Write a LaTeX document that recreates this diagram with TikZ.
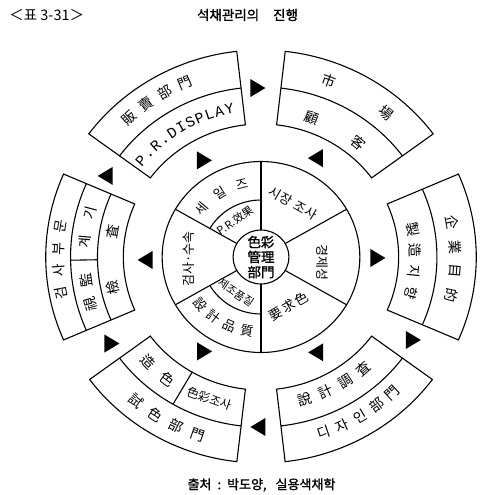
\documentclass[tikz,border=0pt]{standalone}
\usepackage{fontspec}
\usetikzlibrary{decorations.text}
\setmainfont{Noto Sans CJK KR}
\newfontfamily\cjk{Noto Sans CJK KR}
\newfontfamily\cjkb{Noto Sans CJK KR}[FakeBold=1.5]
\newfontfamily\monof{Liberation Mono}
\tikzset{
  lw/.style={line width=1.1pt},
  chr/.style={font=\cjk\fontsize{14}{14}\selectfont, inner sep=0pt},
  ringtxt/.style={font=\cjk\fontsize{13}{13}\selectfont, inner sep=0pt},
  smalltxt/.style={font=\cjk\fontsize{11}{11}\selectfont, inner sep=0pt},
  tri/.pic={\fill (-7.5,-9) -- (7.5,0) -- (-7.5,9) -- cycle;},
}
% #1 style, #2 name, #3 radius, #4 start angle, #5 step, #6 rotation offset, #7 characters
\newcommand\arcchars[7]{%
  \foreach \ch [count=\i from 0] in {#7} {%
    \pgfmathsetmacro\ang{#4+\i*(#5)}%
    \node[#1, rotate=\ang+(#6)] (#2\i) at (\ang:#3) {\ch};
  }}
\newcommand\blockshape[3]{%
  \draw[lw] (#1-23.5:#2) arc[start angle=#1-23.5, end angle=#1+23.5, radius=#2]
    -- (#1+23.5:#3) arc[start angle=#1+23.5, end angle=#1-23.5, radius=#3] -- cycle;}
\newcommand\bandarc[2]{%
  \draw[lw] (#1-23.5:#2) arc[start angle=#1-23.5, end angle=#1+23.5, radius=#2];}
\begin{document}
\begin{tikzpicture}[x=1pt,y=1pt,xscale=1.035]
\useasboundingbox (-252.17,-238) rectangle (216.43,257);

% ---- central ring ----
\draw[lw] (0,0) circle[radius=27];
\draw[lw] (0,0) circle[radius=95.5];
\foreach \a in {30,90,150,210,270,330} \draw[lw] (\a:27) -- (\a:95.5);
\draw[lw] (90:57) arc[start angle=90, end angle=150, radius=57];
\draw[lw] (210:57) arc[start angle=210, end angle=270, radius=57];

\node[font=\cjkb\fontsize{13.5}{15}\selectfont, align=center, inner sep=0pt] (core) at (0,0) {色彩\\管理\\部門};
\arcchars{ringtxt}{sales}{75}{140}{-18}{-90}{세,일,즈}
\node[smalltxt, rotate=34] (pr) at (124:44) {P.R.效果};
\node[ringtxt, rotate=-30] (mkt) at (60:62) {시\hspace{1pt}장\hspace{4pt}조\hspace{1pt}사};
\node[ringtxt, rotate=-90] (econ) at (-5:60) {경제성};
\node[ringtxt, rotate=30] (req) at (-61.5:56) {要\hspace{2pt}求\hspace{2pt}色};
\arcchars{ringtxt}{dq}{75}{219}{13.5}{90}{設,計,品,質}
\node[smalltxt, rotate=-34] (mq) at (236:43) {제조품질};
\node[ringtxt, rotate=90] (insp) at (181.5:70) {검사·수속};

% ---- outer blocks ----
\blockshape{120}{133}{207} \bandarc{120}{170}
\blockshape{60}{133}{207} \bandarc{60}{170}
\blockshape{0}{133}{208} \bandarc{0}{170}
\blockshape{300}{133}{206} \bandarc{300}{170}
\blockshape{240}{133}{206} \bandarc{240}{170}
\draw[lw] (240:133) -- (240:170);
\blockshape{180}{133}{208} \bandarc{180}{158} \bandarc{180}{184}
\draw[lw] (181:158) -- (181:184);

% block texts
\arcchars{chr}{sale}{189}{132.5}{-6.5}{-90}{販,賣,部,門}
\path[decorate, decoration={text along path, text align={fit to path},
  text={|\monof\fontsize{15}{15}\selectfont|P.R.DISPLAY}}]
  (142:146) arc[start angle=142, end angle=100, radius=146];
\node[chr, rotate=-20.3] (m1) at (69.7:188) {市};
\node[chr, rotate=-40] (m2) at (50:188) {場};
\node[chr, rotate=-19.5] (c1) at (70.5:148) {顧};
\node[chr, rotate=-39.5] (c2) at (50.5:148) {客};
\arcchars{chr}{goal}{188}{10.5}{-7.4}{-90}{企,業,目,的}
\arcchars{chr}{mfg}{149}{10.5}{-8.1}{-90}{製,造,지,향}
\arcchars{chr}{dsv}{149}{-73.4}{8.3}{90}{說,計,調,査}
\arcchars{chr}{dsn}{186}{-71}{6}{90}{디,자,인,部,門}
\node[chr, rotate=314] (z1) at (224:151) {造};
\node[chr, rotate=323.6] (z2) at (233.6:152) {色};
\node[font=\cjk\fontsize{12}{12}\selectfont, inner sep=0pt, rotate=-19.5] (cs) at (250.5:150) {色彩조사};
\arcchars{chr}{test}{188}{230}{7}{90}{試,色,部,門}
\arcchars{chr}{insd}{196}{190.5}{-6.5}{-90}{검,사,부,문}
\node[chr, rotate=106] (w1) at (196:171) {視};
\node[chr, rotate=98] (w2) at (188:171) {監};
\node[chr, rotate=85] (g1) at (175:171) {계};
\node[chr, rotate=75] (g2) at (165:171) {기};
\node[chr, rotate=102] (k1) at (192:146) {檢};
\node[chr, rotate=80] (k2) at (170:146) {査};

% ---- triangles ----
\pic at (91:169) {tri};
\pic at (119.5:111) {tri};
\pic at (-0.5:113) {tri};
\pic at (211:168) {tri};
\pic at (240:109) {tri};
\pic at (-29.4:169) {tri};
\pic[rotate=180] at (62:112) {tri};
\pic[rotate=180] at (151.7:171) {tri};
\pic[rotate=180] at (181.5:112) {tri};
\pic[rotate=180] at (269:170) {tri};
\pic[rotate=180] at (299:109) {tri};

% ---- titles ----
\node[font=\cjk\fontsize{14.5}{14.5}\selectfont, inner sep=0pt] (tag) at (-207,242) {＜표 3-31＞};
\node[font=\cjkb\fontsize{13.5}{13.5}\selectfont, inner sep=0pt] (title) at (-13,242) {석채관리의\hspace{14pt}진행};
\node[font=\cjkb\fontsize{13}{13}\selectfont, inner sep=0pt] (src) at (0.5,-228) {출처\hspace{6pt}:\hspace{6pt}박도양,\hspace{9pt}실용색채학};
\end{tikzpicture}
\end{document}
